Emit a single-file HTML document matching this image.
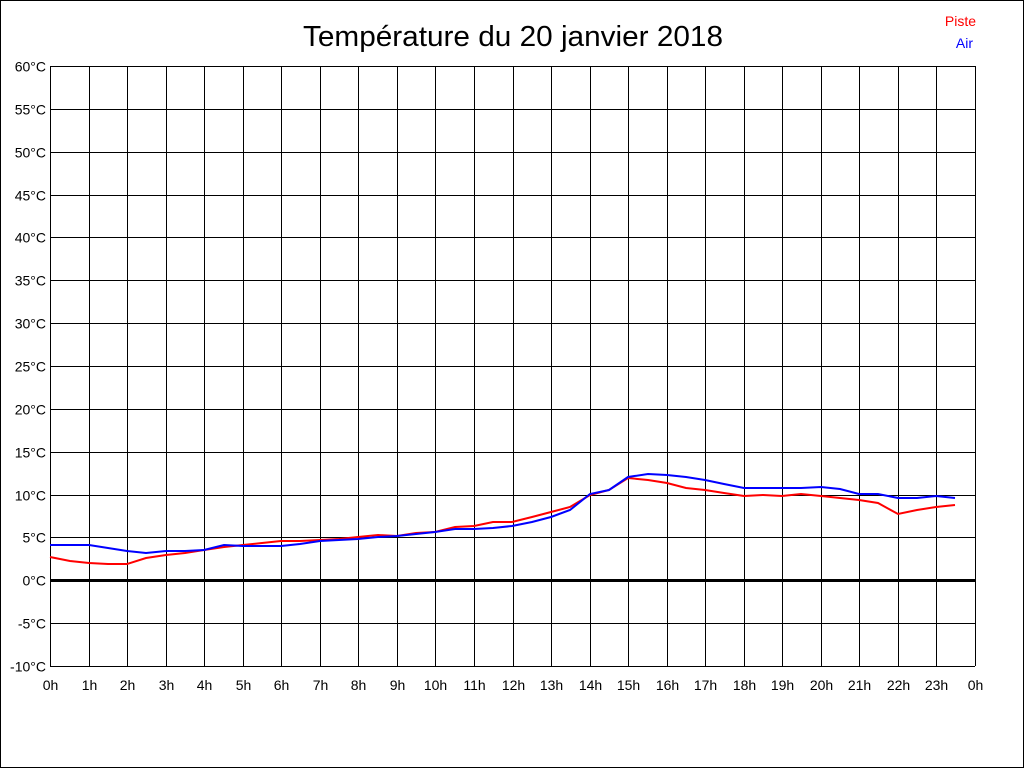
<!DOCTYPE html>
<html><head><meta charset="utf-8"><style>
html,body{margin:0;padding:0;background:#fff}
svg{display:block;font-family:"Liberation Sans",Arial,sans-serif}
</style></head><body>
<svg id="s" width="1024" height="768" xmlns="http://www.w3.org/2000/svg">
<rect x="0.5" y="0.5" width="1023" height="767" fill="#fff" stroke="#000"/>
<text x="513" y="46" font-size="29" text-anchor="middle" textLength="420" lengthAdjust="spacingAndGlyphs">Température du 20 janvier 2018</text>
<text x="976" y="26" font-size="14" fill="#f00" text-anchor="end">Piste</text>
<text x="973" y="48" font-size="14" fill="#00f" text-anchor="end">Air</text>
<g id="g"></g>
</svg>
<script>
var g=document.getElementById('g'),ns='http://www.w3.org/2000/svg',h='';
var x0=50,x1=975,y0=66,y1=666;
for(var i=0;i<=24;i++){var x=Math.round(x0+(x1-x0)*i/24)+0.5;
h+='<line x1="'+x+'" y1="'+y0+'" x2="'+x+'" y2="'+y1+'" stroke="#000"/>';
h+='<text x="'+x+'" y="690" font-size="14" text-anchor="middle">'+(i%24)+'h</text>';}
for(var j=0;j<=14;j++){var v=60-5*j,y=Math.round(y0+(y1-y0)*j/14)+0.5;
h+='<line x1="'+x0+'" y1="'+y+'" x2="'+x1+'" y2="'+y+'" stroke="#000"/>';
h+='<text x="46" y="'+(y+5)+'" font-size="14" text-anchor="end">'+v+'°C</text>';}
h+='<line x1="50" y1="580.5" x2="975" y2="580.5" stroke="#000" stroke-width="3"/>';
var red="50,557 70,561 89,563 108,564 127,564 146,558 166,555 185,553 204,550 224,547 243,545 262,543 281,541 300,541 320,540 339,539 358,537 378,535 397,536 416,533 435,532 455,527 474,526 493,522 512,522 532,517 551,512 570,507 590,495 609,490 628,478 648,480 667,483 686,488 705,490 724,493 744,496 763,495 782,496 801,494 821,496 840,498 859,500 878,503 898,514 917,510 936,507 955,505";
var blue="50,545 89,545 108,548 127,551 146,553 166,551 185,551 204,550 224,545 243,546 262,546 281,546 300,544 320,541 339,540 358,539 378,537 397,536 416,534 435,532 455,529 474,529 493,528 512,526 532,522 551,517 570,510 590,494 609,490 628,477 648,474 667,475 686,477 705,480 724,484 744,488 763,488 782,488 801,488 821,487 840,489 859,494 878,494 898,498 917,498 936,496 955,498";
h+='<polyline points="'+red+'" fill="none" stroke="#f00" stroke-width="2"/>';
h+='<polyline points="'+blue+'" fill="none" stroke="#00f" stroke-width="2"/>';
g.innerHTML=h;
</script>
</body></html>
